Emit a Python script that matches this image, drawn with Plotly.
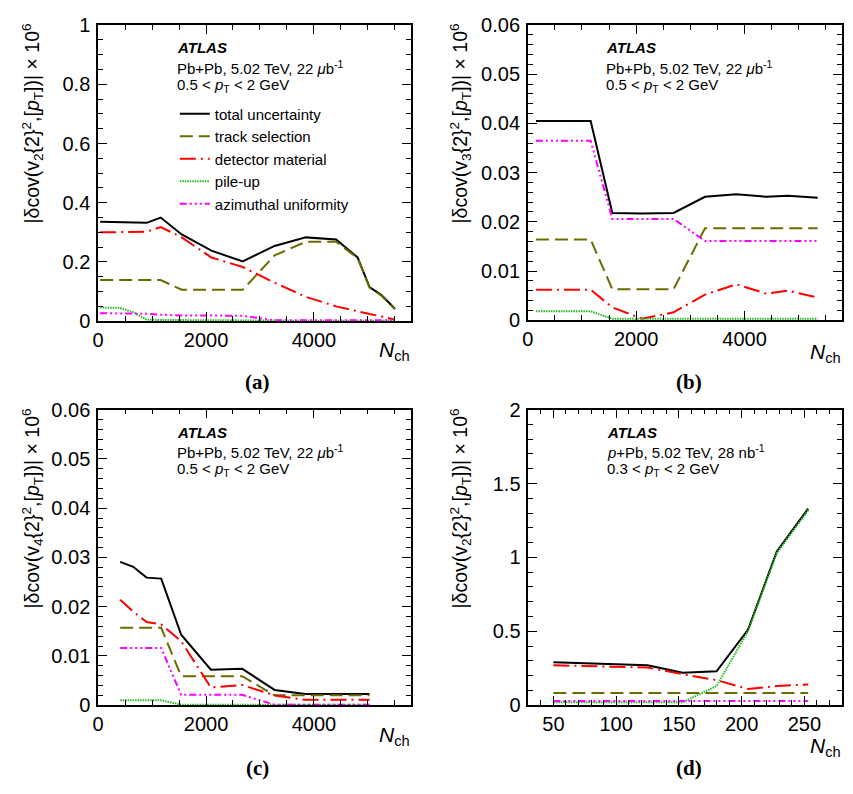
import plotly.graph_objects as go

W, H = 853, 794

# ---------------- data ----------------
names = ["total uncertainty", "track selection", "detector material", "pile-up", "azimuthal uniformity"]

# (a) v2, Pb+Pb
xa = [40, 400, 650, 900, 1160, 1550, 2100, 2680, 3270, 3850, 4410, 4810, 5030, 5250, 5500]
a_total = [0.336, 0.335, 0.334, 0.332, 0.350, 0.293, 0.238, 0.202, 0.254, 0.283, 0.276, 0.215, 0.115, 0.088, 0.042]
a_track = [0.139, 0.139, 0.139, 0.139, 0.139, 0.106, 0.106, 0.106, 0.222, 0.268, 0.268, 0.213, 0.113, 0.086, 0.040]
a_det = [0.300, 0.300, 0.300, 0.302, 0.318, 0.283, 0.215, 0.183, 0.130, 0.082, 0.050, 0.032, 0.024, 0.016, 0.005]
a_pile = [0.046, 0.045, 0.030, 0.005, 0.004, 0.004, 0.004, 0.004, 0.002, 0.001, 0.001, 0.001, 0.001, 0.001, 0.001]
a_azi = [0.027, 0.027, 0.026, 0.025, 0.022, 0.019, 0.019, 0.018, 0.003, 0.003, 0.003, 0.003, 0.003, 0.003, 0.003]

# (b) v3, Pb+Pb
xb = [150, 1160, 1560, 2110, 2690, 3270, 3850, 4400, 4800, 5350]
b_total = [0.0405, 0.0405, 0.0218, 0.0217, 0.0218, 0.0251, 0.0256, 0.0251, 0.0253, 0.0249]
b_track = [0.0164, 0.0164, 0.0063, 0.0063, 0.0063, 0.0187, 0.0187, 0.0187, 0.0187, 0.0187]
b_det = [0.0062, 0.0062, 0.0026, 0.0003, 0.0016, 0.0052, 0.0073, 0.0054, 0.0060, 0.0046]
b_pile = [0.0018, 0.0018, 0.0003, 0.0003, 0.0003, 0.0003, 0.0003, 0.0003, 0.0003, 0.0003]
b_azi = [0.0365, 0.0365, 0.0206, 0.0206, 0.0206, 0.0161, 0.0161, 0.0161, 0.0161, 0.0161]

# (c) v4, Pb+Pb
xc = [410, 650, 900, 1170, 1540, 2090, 2670, 3270, 3840, 4430, 5030]
c_total = [0.0291, 0.0281, 0.0259, 0.0257, 0.0143, 0.0072, 0.0074, 0.0031, 0.0023, 0.0023, 0.0023]
c_track = [0.0157, 0.0157, 0.0157, 0.0157, 0.0059, 0.0059, 0.0059, 0.0020, 0.0020, 0.0020, 0.0020]
c_det = [0.0214, 0.0190, 0.0169, 0.0164, 0.0130, 0.0036, 0.0041, 0.0020, 0.0011, 0.0011, 0.0011]
c_pile = [0.0010, 0.0010, 0.0010, 0.0010, 0.0001, 0.0001, 0.0001, 0.0001, 0.0001, 0.0001, 0.0001]
c_azi = [0.0116, 0.0116, 0.0116, 0.0116, 0.0021, 0.0021, 0.0021, 0.0001, 0.0001, 0.0001, 0.0001]

# (d) v2, p+Pb
xd = [50, 75, 100, 125, 153, 180, 205, 228, 253]
d_total = [0.290, 0.283, 0.276, 0.270, 0.220, 0.230, 0.510, 1.040, 1.330]
d_track = [0.083, 0.083, 0.083, 0.083, 0.083, 0.083, 0.083, 0.083, 0.083]
d_det = [0.270, 0.265, 0.260, 0.255, 0.210, 0.170, 0.110, 0.130, 0.140]
d_pile = [0.020, 0.020, 0.020, 0.020, 0.020, 0.130, 0.500, 1.030, 1.320]
d_azi = [0.028, 0.028, 0.028, 0.028, 0.028, 0.028, 0.028, 0.028, 0.028]

panels = [
    (xa, [a_total, a_track, a_det, a_pile, a_azi]),
    (xb, [b_total, b_track, b_det, b_pile, b_azi]),
    (xc, [c_total, c_track, c_det, c_pile, c_azi]),
    (xd, [d_total, d_track, d_det, d_pile, d_azi]),
]

styles = [
    dict(color="black", width=2, dash="solid"),
    dict(color="#6b6b00", width=2, dash="13px,6px"),
    dict(color="#ff0000", width=2, dash="16px,5px,2px,5px"),
    dict(color="#22bb22", width=2, dash="1.5px,1px"),
    dict(color="#ff00ff", width=2, dash="7px,3px,2px,3px,2px,3px,2px,3px"),
]

# ---------------- layout geometry (pixels) ----------------
def px(x):
    return x / W

def py(y):
    return 1 - y / H

xdom = [[px(92.7), px(408)], [px(525.5), px(842)], [px(92.7), px(408)], [px(526), px(842)]]
ydom = [[py(319), py(14.5)], [py(318), py(14.5)], [py(714), py(410)], [py(714), py(410)]]
xranges = [[0, 5800], [0, 5800], [0, 5800], [30, 280]]
yranges = [[0, 1], [0, 0.06], [0, 0.06], [0, 2]]
xdt = [(2000, 500), (2000, 500), (2000, 500), (50, 10)]
ydt = [(0.2, 0.05), (0.01, 0.002), (0.01, 0.002), (0.5, 0.1)]

fig = go.Figure()
FONT = "Liberation Sans, Arial, sans-serif"

for i, (xs, series) in enumerate(panels):
    sfx = "" if i == 0 else str(i + 1)
    for j, ys in enumerate(series):
        fig.add_trace(go.Scatter(
            x=xs, y=ys, mode="lines", name=names[j],
            line=styles[j], showlegend=(i == 0),
            xaxis="x" + sfx, yaxis="y" + sfx,
        ))
    common = dict(showline=True, linecolor="black", linewidth=1.5, mirror="allticks",
                  ticks="inside", tickcolor="black", tickwidth=1.2, showgrid=False,
                  zeroline=False, tickfont=dict(family=FONT, size=20, color="black"))
    fig.layout["xaxis" + sfx] = dict(
        domain=xdom[i], range=xranges[i], anchor="y" + sfx,
        tick0=0, dtick=xdt[i][0], ticklen=9,
        minor=dict(dtick=xdt[i][1], ticklen=5, ticks="inside", tickcolor="black", tickwidth=1),
        **common)
    fig.layout["yaxis" + sfx] = dict(
        domain=ydom[i], range=yranges[i], anchor="x" + sfx,
        tick0=0, dtick=ydt[i][0], ticklen=9,
        minor=dict(dtick=ydt[i][1], ticklen=5, ticks="inside", tickcolor="black", tickwidth=1),
        ticklabelstandoff=2,
        **common)

ann = []
ytitles = [
    "|δcov(v<sub>2</sub>{2}<sup>2</sup>,[<i>p</i><sub>T</sub>])| × 10<sup>6</sup>",
    "|δcov(v<sub>3</sub>{2}<sup>2</sup>,[<i>p</i><sub>T</sub>])| × 10<sup>6</sup>",
    "|δcov(v<sub>4</sub>{2}<sup>2</sup>,[<i>p</i><sub>T</sub>])| × 10<sup>6</sup>",
    "|δcov(v<sub>2</sub>{2}<sup>2</sup>,[<i>p</i><sub>T</sub>])| × 10<sup>6</sup>",
]
ytitle_x = [27, 458, 27, 458]
ytop = [11, 11, 407, 407]
for i in range(4):
    ann.append(dict(text=ytitles[i], x=px(ytitle_x[i]), y=py(ytop[i]), xref="paper", yref="paper",
                    xanchor="center", yanchor="top", textangle=-90, showarrow=False,
                    font=dict(family=FONT, size=19.5, color="black")))

# N_ch labels
nch_pos = [(409, 350), (843, 352), (409, 746), (843, 757)]
for (xp, yp) in nch_pos:
    ann.append(dict(text="<i>N</i><sub>ch</sub>", x=px(xp), y=py(yp), xref="paper", yref="paper",
                    xanchor="right", yanchor="middle", showarrow=False,
                    font=dict(family=FONT, size=21, color="black")))

# captions
caps = [("(a)", 253, 382), ("(b)", 688, 382), ("(c)", 253, 779), ("(d)", 688, 779)]
for t, xp, yp in caps:
    ann.append(dict(text="<b>" + t + "</b>", x=px(xp), y=py(yp), xref="paper", yref="paper",
                    xanchor="center", yanchor="middle", showarrow=False,
                    font=dict(family="Liberation Serif, Times New Roman, serif", size=21, color="black")))

# ATLAS labels
lab = [
    (170, 0, "Pb+Pb, 5.02 TeV, 22 <i>μ</i>b<sup>-1</sup>", "0.5 < <i>p</i><sub>T</sub> < 2 GeV"),
    (602, 0, "Pb+Pb, 5.02 TeV, 22 <i>μ</i>b<sup>-1</sup>", "0.5 < <i>p</i><sub>T</sub> < 2 GeV"),
    (170, 395, "Pb+Pb, 5.02 TeV, 22 <i>μ</i>b<sup>-1</sup>", "0.5 < <i>p</i><sub>T</sub> < 2 GeV"),
    (603, 395, "<i>p</i>+Pb, 5.02 TeV, 28 nb<sup>-1</sup>", "0.3 < <i>p</i><sub>T</sub> < 2 GeV"),
]
for xp, y0, l1, l2 in lab:
    ann.append(dict(text="<b><i>ATLAS</i></b>", x=px(xp), y=py(y0 + 38), xref="paper", yref="paper",
                    xanchor="left", yanchor="middle", showarrow=False,
                    font=dict(family=FONT, size=15, color="black")))
    ann.append(dict(text=l1, x=px(xp), y=py(y0 + 58), xref="paper", yref="paper",
                    xanchor="left", yanchor="middle", showarrow=False,
                    font=dict(family=FONT, size=15, color="black")))
    ann.append(dict(text=l2, x=px(xp), y=py(y0 + 77), xref="paper", yref="paper",
                    xanchor="left", yanchor="middle", showarrow=False,
                    font=dict(family=FONT, size=15, color="black")))

fig.update_layout(
    width=W, height=H, margin=dict(l=0, r=0, t=0, b=0),
    paper_bgcolor="white", plot_bgcolor="white",
    annotations=ann,
    legend=dict(x=px(170), y=py(89), xanchor="left", yanchor="top",
                bgcolor="rgba(0,0,0,0)", borderwidth=0, tracegroupgap=0,
                font=dict(family=FONT, size=15, color="black")),
    showlegend=True,
)

fig.write_html("out.html", config={"displayModeBar": False},
               post_script="document.body.style.margin='0';document.body.style.overflow='hidden';")
